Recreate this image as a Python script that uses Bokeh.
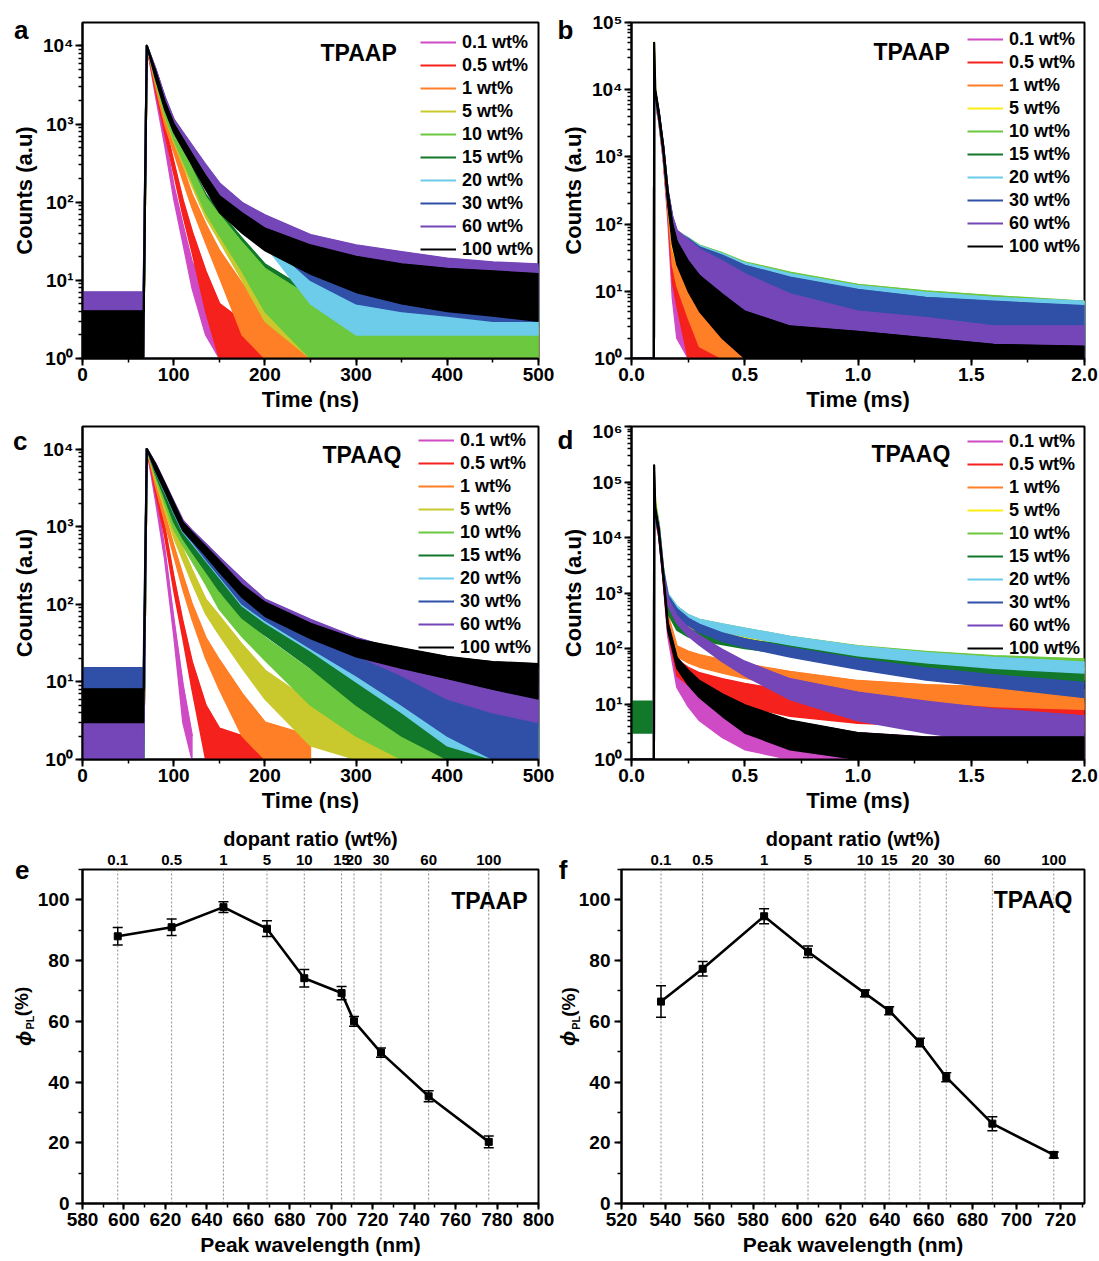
import math
from bokeh.plotting import figure
from bokeh.models import (Range1d, LogTicker, SingleIntervalTicker, FixedTicker, LinearAxis, LogAxis,
                          CustomJSTickFormatter, NumeralTickFormatter, Legend, LegendItem, Label,
                          Span, Whisker, ColumnDataSource, TeeHead)
from bokeh.layouts import column, row
from bokeh.embed import file_html
from bokeh.resources import INLINE

FONT = "Liberation Sans"
N = None

# ---------------- data ----------------
LABELS = ["0.1 wt%", "0.5 wt%", "1 wt%", "5 wt%", "10 wt%", "15 wt%", "20 wt%", "30 wt%", "60 wt%", "100 wt%"]
COLORS_NS = ["#cf4bc6", "#f5211c", "#ff7f27", "#c9c92e", "#6cc83e", "#12782a", "#6cccea", "#3050a8", "#7446b8", "#000000"]
COLORS_MS = ["#cf4bc6", "#f5211c", "#ff7f27", "#ffee14", "#6cc83e", "#12782a", "#6cccea", "#3050a8", "#7446b8", "#000000"]

# panel a : TPAAP, ns decays (upper / lower envelope of each noisy trace)
A_TIME = [0, 67, 70.5, 80, 90, 100, 110, 120, 135, 150, 175, 200, 250, 300, 350, 400, 450, 500]
A_HI = [
    [3, 3, 1e4, 3000, 700, 160, 50, 17, 8, 4, 2.5, N, N, N, N, N, N, N],
    [3, 3, 1e4, 3400, 1000, 320, 105, 42, 13, 5, 3, 2.5, N, N, N, N, N, N],
    [3, 3, 1e4, 3900, 1270, 590, 270, 125, 52, 24, 9, 5, 3, 2.5, N, N, N, N],
    [3, 3, 1e4, 4400, 1600, 780, 420, 230, 100, 58, 25, 12, 5, 3, 2.5, 2.5, 2.5, 2.5],
    [3, 3, 1e4, 4500, 1700, 850, 470, 260, 115, 68, 30, 14, 6, 3, 3, 3, 3, 3],
    [3, 3, 1e4, 4550, 1750, 900, 500, 280, 125, 75, 34, 16, 7, 3.5, 3, 3, 3, 3],
    [5, 5, 1e4, 4900, 2150, 1090, 740, 500, 280, 163, 90, 62, 35, 25, 20, 17, 15, 14],
    [6, 6, 1e4, 5000, 2200, 1120, 760, 515, 290, 170, 95, 66, 37, 27, 22, 18, 16, 15],
    [7, 7, 1e4, 5100, 2250, 1150, 780, 530, 300, 175, 98, 68, 38, 28, 23, 19, 17, 16],
    [4, 4, 1e4, 4700, 1950, 1000, 640, 410, 215, 120, 72, 46, 28, 20, 16, 14, 13, 12],
]
A_LO = [
    [1, 1, 1e4, 2300, 540, 110, 30, 8, 2, 1, 1, N, N, N, N, N, N, N],
    [1, 1, 1e4, 2650, 780, 230, 68, 23, 4, 1, 1, 1, N, N, N, N, N, N],
    [1, 1, 1e4, 3050, 990, 440, 190, 85, 30, 11, 2, 1, 1, 1, N, N, N, N],
    [1, 1, 1e4, 3500, 1250, 590, 300, 160, 64, 32, 10, 3, 1, 1, 1, 1, 1, 1],
    [1, 1, 1e4, 3600, 1320, 640, 340, 185, 74, 38, 13, 4, 1, 1, 1, 1, 1, 1],
    [1, 1, 1e4, 3650, 1360, 680, 360, 200, 82, 42, 15, 5, 1, 1, 1, 1, 1, 1],
    [1, 1, 1e4, 4000, 1720, 830, 550, 370, 190, 105, 50, 28, 5, 2, 2, 2, 2, 2],
    [1, 1, 1e4, 4050, 1750, 850, 570, 385, 200, 110, 55, 33, 10, 5, 4, 3.5, 3, 3],
    [1, 1, 1e4, 4100, 1780, 870, 590, 400, 210, 115, 60, 38, 20, 13, 9, 7, 6, 5],
    [1, 1, 1e4, 3800, 1550, 780, 480, 300, 145, 74, 40, 24, 12, 7, 5, 4, 3.5, 3],
]

# panel b : TPAAP, ms decays
B_TIME = [0, 0.099, 0.1, 0.105, 0.12, 0.14, 0.16, 0.18, 0.2, 0.25, 0.3, 0.4, 0.5, 0.7, 1.0, 1.3, 1.6, 2.0]
B_HI = [
    [1, 1, 8000, 7000, 4000, 1100, 200, 25, 9, 2.5, N, N, N, N, N, N, N, N],
    [1, 1, 1e4, 8000, 4200, 1200, 230, 35, 17, 6, 3, 2.5, N, N, N, N, N, N],
    [1, 1, 1e4, 8200, 4300, 1250, 250, 55, 28, 13, 6, 3, 2.5, N, N, N, N, N],
    [1, 1, 5e4, 9000, 4500, 1300, 280, 85, 50, 26, 20, 15, 13, 12, 10.5, 9, 8, 7],
    [1, 1, 1e4, 9000, 4600, 1400, 300, 125, 78, 62, 48, 37, 27, 19, 12.5, 10, 8.5, 7],
    [1, 1, 1e4, 9000, 4600, 1400, 300, 120, 75, 60, 46, 35, 25, 17, 11, 9, 7.5, 6.5],
    [1, 1, 1e4, 9000, 4600, 1400, 300, 125, 78, 61, 47, 36, 26, 18, 12, 9.5, 8, 7],
    [1, 1, 1e4, 9000, 4600, 1400, 300, 120, 75, 60, 45, 34, 24, 16, 10.5, 8, 7, 6],
    [1, 1, 1e4, 9000, 4600, 1450, 320, 130, 80, 58, 42, 28, 18, 9, 5, 4, 3, 3],
    [1, 1, 5e4, 1e4, 4800, 1450, 300, 100, 55, 28, 17, 9, 5, 3, 2.5, 2, 1.6, 1.5],
]
B_LO = [
    [1, 1, 8000, 6000, 3400, 900, 120, 8, 2, 1, N, N, N, N, N, N, N, N],
    [1, 1, 1e4, 6800, 3500, 950, 150, 14, 6, 1, 1, 1, N, N, N, N, N, N],
    [1, 1, 1e4, 7000, 3600, 1000, 170, 25, 12, 4, 1.5, 1, 1, N, N, N, N, N],
    [1, 1, 5e4, 7500, 3700, 1050, 190, 45, 25, 11, 6, 3, 2, 2, 2, 2, 2, 2],
    [1, 1, 1e4, 7500, 3800, 1100, 210, 75, 45, 28, 20, 12, 7, 4, 2.5, 2, 2, 2],
    [1, 1, 1e4, 7500, 3800, 1100, 210, 72, 43, 26, 18, 11, 6, 3, 2, 2, 1.5, 1.5],
    [1, 1, 1e4, 7500, 3800, 1100, 210, 72, 43, 26, 17, 10, 6, 3, 2, 1, 1, 1],
    [1, 1, 1e4, 7500, 3800, 1100, 210, 70, 40, 24, 15, 8, 3, 1, 1, 1, 1, 1],
    [1, 1, 1e4, 7500, 3800, 1150, 220, 72, 40, 20, 12, 4, 1.5, 1, 1, 1, 1, 1],
    [1, 1, 5e4, 8000, 3900, 1150, 200, 50, 25, 10, 5, 2, 1, 1, 1, 1, 1, 1],
]

# panel c : TPAAQ, ns decays
C_TIME = [0, 67, 70.5, 80, 90, 100, 110, 120, 135, 150, 175, 200, 250, 300, 350, 400, 450, 500]
C_HI = [
    [2, 2, 1e4, 2800, 500, 62, 9, 2, N, N, N, N, N, N, N, N, N, N],
    [2, 2, 1e4, 3500, 980, 220, 58, 18, 5, 2.5, 2, 2, N, N, N, N, N, N],
    [2, 2, 1e4, 4100, 1450, 560, 230, 100, 37, 19, 7, 3, 2, N, N, N, N, N],
    [2, 2, 1e4, 4900, 2050, 950, 510, 275, 115, 70, 30, 14, 5.5, 3, 2.5, 2.5, 2.5, 2.5],
    [2, 2, 1e4, 5300, 2500, 1180, 750, 490, 255, 135, 68, 37, 14, 7, 3.5, 2.5, 2.5, 2.5],
    [2, 2, 1e4, 5700, 2850, 1450, 900, 630, 370, 215, 108, 72, 30, 14, 7, 4, 3, 3],
    [3, 3, 1e4, 6100, 3400, 1850, 1060, 780, 480, 295, 135, 88, 44, 25, 14, 9, 7, 6],
    [15, 15, 1e4, 6300, 3500, 1950, 1120, 820, 500, 310, 145, 95, 48, 28, 17, 12, 10, 9],
    [3, 3, 1e4, 6500, 3700, 2100, 1200, 890, 600, 400, 210, 115, 63, 37, 25, 18, 16, 15],
    [8, 8, 1e4, 6300, 3600, 2000, 1120, 840, 550, 360, 175, 105, 56, 35, 27, 21, 18, 17],
]
C_LO = [
    [1, 1, 1e4, 2150, 380, 40, 3, 1, N, N, N, N, N, N, N, N, N, N],
    [1, 1, 1e4, 2750, 750, 150, 36, 8, 1, 1, 1, 1, N, N, N, N, N, N],
    [1, 1, 1e4, 3300, 1150, 420, 155, 64, 20, 8, 2, 1, 1, N, N, N, N, N],
    [1, 1, 1e4, 3950, 1640, 720, 370, 190, 75, 40, 15, 6, 1.5, 1, 1, 1, 1, 1],
    [1, 1, 1e4, 4350, 2000, 920, 570, 360, 180, 86, 38, 19, 5, 2, 1, 1, 1, 1],
    [1, 1, 1e4, 4750, 2350, 1150, 700, 470, 265, 148, 66, 40, 15, 5, 2, 1, 1, 1],
    [1, 1, 1e4, 5100, 2800, 1500, 850, 610, 365, 220, 95, 58, 25, 10, 4, 1.5, 1, 1],
    [1, 1, 1e4, 5200, 2900, 1550, 880, 640, 380, 230, 100, 62, 27, 12, 5, 2, 1, 1],
    [1, 1, 1e4, 5300, 2950, 1650, 920, 680, 450, 295, 150, 78, 40, 22, 12, 6, 4, 3],
    [3, 3, 1e4, 5200, 2900, 1580, 890, 660, 420, 260, 122, 70, 36, 21, 15, 11, 8, 6],
]

# panel d : TPAAQ, ms decays
D_TIME = [0, 0.099, 0.1, 0.105, 0.12, 0.14, 0.16, 0.2, 0.25, 0.3, 0.4, 0.5, 0.7, 1.0, 1.3, 1.6, 2.0]
D_HI = [
    [1, 1, 3e4, 2.8e4, 13500, 2050, 240, 42, 22, 14, 8, 5.5, 3.5, 3, 2.5, 2.5, 2.5],
    [1, 1, 3e4, 2.8e4, 13500, 2150, 290, 62, 45, 36, 28, 23, 17, 13, 12, 11, 10],
    [1, 1, 4e4, 3.4e4, 15500, 2400, 400, 110, 88, 76, 62, 52, 38, 26, 22, 20, 18],
    [1, 1, 8e4, 4.5e4, 18000, 2600, 680, 345, 255, 220, 188, 165, 125, 90, 68, 56, 45],
    [1, 1, 5e4, 4e4, 18000, 2700, 960, 570, 400, 330, 272, 228, 163, 110, 87, 73, 64],
    [11, 11, 4e4, 3.4e4, 17000, 2600, 570, 290, 220, 192, 163, 142, 113, 75, 56, 45, 38],
    [1, 1, 4e4, 3.4e4, 17000, 2600, 960, 570, 400, 330, 272, 228, 163, 108, 83, 68, 56],
    [1, 1, 3e4, 2.8e4, 15500, 2500, 900, 515, 345, 268, 188, 148, 102, 64, 44, 33, 24],
    [1, 1, 3e4, 2.8e4, 14500, 2300, 790, 380, 235, 168, 95, 58, 28, 16, 11, 8, 6],
    [1, 1, 2e5, 3.4e4, 14500, 2300, 290, 68, 40, 26, 15, 9.5, 5, 3, 2.5, 2.5, 2.5],
]
D_LO = [
    [1, 1, 3e4, 2.2e4, 10500, 1550, 165, 20, 9, 5, 2.5, 1.5, 1, 1, 1, 1, 1],
    [1, 1, 3e4, 2.2e4, 10500, 1650, 210, 32, 22, 17, 12, 9, 6, 4.5, 4, 3.5, 3],
    [1, 1, 4e4, 2.7e4, 12500, 1850, 300, 72, 55, 46, 36, 29, 20, 13, 11, 9, 8],
    [1, 1, 8e4, 3.5e4, 14000, 2000, 520, 260, 190, 162, 135, 118, 88, 62, 44, 36, 27],
    [1, 1, 5e4, 3.1e4, 14000, 2100, 740, 435, 300, 245, 200, 165, 116, 76, 59, 48, 42],
    [3, 3, 4e4, 2.6e4, 13000, 2000, 435, 215, 162, 140, 118, 100, 78, 50, 35, 28, 23],
    [1, 1, 4e4, 2.6e4, 13000, 2000, 740, 435, 300, 245, 200, 165, 116, 74, 55, 44, 36],
    [1, 1, 3e4, 2.2e4, 12500, 1900, 700, 390, 258, 196, 135, 105, 70, 42, 27, 20, 13],
    [1, 1, 3e4, 2.2e4, 11500, 1750, 610, 285, 168, 115, 58, 32, 12, 5, 3, 2, 1.2],
    [1, 1, 2e5, 2.6e4, 11500, 1750, 210, 44, 22, 13, 6, 3, 1.5, 1, 1, 1, 1],
]

# panels e / f : PLQY vs peak wavelength
DOPANT = ["0.1", "0.5", "1", "5", "10", "15", "20", "30", "60", "100"]
E_WL = [597, 623, 648, 669, 687, 705, 711, 724, 747, 776]
E_PLQY = [88.0, 91.0, 97.6, 90.5, 74.2, 69.3, 60.0, 49.7, 35.3, 20.3]
E_ERR = [2.9, 2.7, 1.8, 2.6, 2.9, 2.2, 1.6, 1.5, 1.8, 1.9]
F_WL = [538, 557, 585, 605, 631, 642, 656, 668, 689, 717]
F_PLQY = [66.5, 77.3, 94.6, 82.9, 69.2, 63.5, 53.0, 41.6, 26.3, 16.0]
F_ERR = [5.2, 2.4, 2.5, 1.9, 1.1, 1.3, 1.4, 1.5, 2.3, 1.0]

# ---------------- layout (page pixel geometry) ----------------
COL_X = [0, 554]
COL_W = [554, 544]
ROW_Y = [0, 420, 822]
ROW_H = [420, 402, 438]
FRAMES = {"a": (82, 22, 538, 358), "b": (628, 22, 1084, 358),
          "c": (82, 425, 538, 759), "d": (628, 426, 1084, 760),
          "e": (82, 869, 538, 1203), "f": (620, 866, 1084, 1205)}
CELL = {"a": (0, 0), "b": (1, 0), "c": (0, 1), "d": (1, 1), "e": (0, 2), "f": (1, 2)}
STD_ORDER = list(range(10))
A_ORDER = [0, 1, 2, 5, 3, 4, 6, 7, 8, 9]   # draw order of the traces in panel a

SUP_JS = """
const sup = {"0":"\u2070","1":"\u00b9","2":"\u00b2","3":"\u00b3","4":"\u2074","5":"\u2075","6":"\u2076","7":"\u2077","8":"\u2078","9":"\u2079","-":"\u207b"};
const e = Math.round(Math.log10(tick));
return "10" + String(e).split("").map(c => sup[c]).join("");
"""


def base_fig(key, x_range, y_range, y_log=False):
    ci, ri = CELL[key]
    fl, ft, fr, fb = FRAMES[key]
    cx, cw = COL_X[ci], COL_W[ci]
    ry, rh = ROW_Y[ri], ROW_H[ri]
    p = figure(width=cw, height=rh, output_backend="svg", toolbar_location=None,
               x_range=x_range, y_range=y_range, y_axis_type="log" if y_log else "linear",
               min_border_left=fl - cx, min_border_right=cx + cw - fr,
               min_border_top=ft - ry, min_border_bottom=ry + rh - fb)
    p.grid.visible = False
    p.outline_line_color = "black"
    p.outline_line_width = 2
    p.outline_line_alpha = 1
    p.background_fill_color = "white"
    p.border_fill_color = "white"
    return p


def style_axis(ax, label, tick_size="19px", label_size="22px"):
    ax.axis_label = label
    ax.axis_label_text_font = FONT
    ax.axis_label_text_font_style = "bold"
    ax.axis_label_text_font_size = label_size
    ax.axis_label_text_color = "black"
    ax.major_label_text_font = FONT
    ax.major_label_text_font_style = "bold"
    ax.major_label_text_font_size = tick_size
    ax.major_label_text_color = "black"
    ax.axis_line_color = "black"
    ax.axis_line_width = 2
    ax.major_tick_line_color = "black"
    ax.major_tick_line_width = 2
    ax.major_tick_out = 7
    ax.major_tick_in = 0
    ax.minor_tick_line_color = "black"
    ax.minor_tick_line_width = 1.5
    ax.minor_tick_out = 4
    ax.minor_tick_in = 0
    ax.major_label_standoff = 2
    ax.axis_label_standoff = 3


def text_axis(p, values, texts, size, standoff, orient="horizontal", style="bold", log=False):
    """An extra, invisible left axis used only to print texts beside the frame."""
    cls = LogAxis if log else LinearAxis
    ax = cls(ticker=FixedTicker(ticks=list(values)),
             formatter=CustomJSTickFormatter(
                 args=dict(vals=list(values), labs=list(texts)),
                 code="let b = 0; for (let i = 0; i < vals.length; i++) { if (Math.abs(vals[i] - tick) < Math.abs(vals[b] - tick)) b = i; } return labs[b];"))
    ax.axis_label = None
    ax.axis_line_color = None
    ax.major_tick_line_color = None
    ax.minor_tick_line_color = None
    ax.major_tick_out = 0
    ax.major_tick_in = 0
    ax.minor_tick_out = 0
    ax.minor_tick_in = 0
    ax.major_label_standoff = standoff
    ax.major_label_orientation = orient
    ax.major_label_text_font = FONT
    ax.major_label_text_font_style = style
    ax.major_label_text_font_size = size
    ax.major_label_text_color = "black"
    p.add_layout(ax, "left")
    return ax


def y_at(key, Y, log_top=None, lin_top=None):
    fl, ft, fr, fb = FRAMES[key]
    frac = (fb - Y) / float(fb - ft)
    if log_top is not None:
        return 10 ** (log_top * frac)
    return lin_top * frac


def page_label(p, key, X, Y, text, size, align="left", style="bold"):
    fl, ft, fr, fb = FRAMES[key]
    p.add_layout(Label(x=X - fl, y=fb - Y, x_units="screen", y_units="screen", text=text,
                       text_font=FONT, text_font_size=size, text_font_style=style,
                       text_align=align, text_baseline="alphabetic", text_color="black"))


def decay_panel(key, x_end, log_top, x_step, x_label, times, his, los, colors,
                title, title_xy, letter, letter_y, letter_standoff, legend_xy,
                ms=False, order=STD_ORDER):
    p = base_fig(key, Range1d(0, x_end), Range1d(1, 10 ** log_top), y_log=True)
    renderers = {}
    for k in order:
        hi, lo, col = his[k], los[k], colors[k]
        idx = [i for i, v in enumerate(hi) if v is not None]
        t = [times[i] for i in idx]
        h = [hi[i] for i in idx]
        l = [lo[i] for i in idx]
        p.patch(t + t[::-1], h + l[::-1], fill_color=col, line_color=col,
                line_width=1.4, line_join="round")
        renderers[k] = p.line(t, h, line_color=col, line_width=2.2, line_join="round")
    items = [LegendItem(label=LABELS[k], renderers=[renderers[k]]) for k in range(10)]
    style_axis(p.xaxis[0], x_label)
    style_axis(p.yaxis[0], "Counts (a.u)")
    p.xaxis[0].ticker = SingleIntervalTicker(interval=x_step, num_minor_ticks=2)
    if ms:
        p.xaxis[0].formatter = NumeralTickFormatter(format="0.0")
    p.yaxis[0].ticker = LogTicker(mantissas=[1], num_minor_ticks=10, desired_num_ticks=8)
    p.yaxis[0].formatter = CustomJSTickFormatter(code=SUP_JS)

    fl, ft, fr, fb = FRAMES[key]
    lx, ly = legend_xy
    top = ly - 11
    height = 10 * 22 + 9 * 1
    leg = Legend(items=items, location=(lx - fl, fb - (top + height)),
                 label_text_font=FONT, label_text_font_style="bold",
                 label_text_font_size="18px", label_text_color="black",
                 glyph_width=36, glyph_height=22, label_height=22, spacing=1,
                 label_standoff=6, padding=0, margin=0,
                 border_line_alpha=0, background_fill_alpha=0)
    p.add_layout(leg)
    page_label(p, key, title_xy[0], title_xy[1], title, "23px")
    text_axis(p, [y_at(key, letter_y, log_top=log_top)], [letter], "26px", letter_standoff, log=True)
    return p


def plqy_panel(key, x0, x1, wl, vals, errs, title, title_xy, letter, main_standoff, stand):
    p = base_fig(key, Range1d(x0, x1), Range1d(0, 110))
    for w in wl:
        p.add_layout(Span(location=w, dimension="height", line_color="#8c8c8c",
                          line_dash="2 2", line_width=1, level="underlay"))
    src = ColumnDataSource(dict(x=wl, y=vals,
                                upper=[v + e for v, e in zip(vals, errs)],
                                lower=[v - e for v, e in zip(vals, errs)]))
    p.add_layout(Whisker(source=src, base="x", upper="upper", lower="lower",
                         line_color="black", line_width=1.5,
                         upper_head=TeeHead(size=10, line_width=1.5, line_color="black"),
                         lower_head=TeeHead(size=10, line_width=1.5, line_color="black")))
    p.line("x", "y", source=src, line_color="black", line_width=2.6)
    p.scatter("x", "y", source=src, marker="square", size=7, color="black")

    style_axis(p.xaxis[0], "Peak wavelength (nm)", tick_size="19px", label_size="21px")
    style_axis(p.yaxis[0], None, tick_size="19px")
    p.xaxis[0].major_tick_out = 6
    p.xaxis[0].major_label_standoff = 3
    p.xaxis[0].axis_label_standoff = 4
    p.xaxis[0].ticker = SingleIntervalTicker(interval=20, num_minor_ticks=2)
    p.yaxis[0].ticker = SingleIntervalTicker(interval=20, num_minor_ticks=2)
    p.yaxis[0].major_label_standoff = main_standoff

    top = LinearAxis(ticker=FixedTicker(ticks=wl),
                     formatter=CustomJSTickFormatter(
                         args=dict(wls=wl, labs=DOPANT),
                         code="const i = wls.findIndex(t => Math.abs(t - tick) < 1e-6); return i >= 0 ? labs[i] : '';"))
    style_axis(top, "dopant ratio (wt%)", tick_size="15px", label_size="20px")
    top.major_tick_out = 0
    top.major_tick_in = 0
    top.minor_tick_out = 0
    top.axis_line_alpha = 0
    top.major_tick_line_alpha = 0
    top.major_label_standoff = 5
    top.axis_label_standoff = 2
    p.add_layout(top, "above")

    page_label(p, key, title_xy[0], title_xy[1], title, "23px", align="right")

    # y axis title  "phi_PL (%)"  and the panel letter, printed by extra invisible left axes
    fl, ft, fr, fb = FRAMES[key]
    mid = (ft + fb) / 2.0
    s_pct, s_phi, s_pl, s_let = stand
    text_axis(p, [y_at(key, mid - 35, lin_top=110)], ["(%)"], "19px", s_pct, orient="vertical")
    text_axis(p, [y_at(key, mid + 2, lin_top=110)], ["\u03d5"], "20px", s_phi, orient="vertical",
              style="bold italic")
    text_axis(p, [y_at(key, mid - 14, lin_top=110)], ["PL"], "11px", s_pl, orient="vertical")
    text_axis(p, [109.9], [letter], "26px", s_let)
    return p


pa = decay_panel("a", 500, 4.3, 100, "Time (ns)", A_TIME, A_HI, A_LO, COLORS_NS,
                 "TPAAP", (320, 52), "a", 29, -20, (420, 42), order=A_ORDER)
pb = decay_panel("b", 2.0, 5.0, 0.5, "Time (ms)", B_TIME, B_HI, B_LO, COLORS_MS,
                 "TPAAP", (870, 51), "b", 29, -16, (964, 39), ms=True)
pc = decay_panel("c", 500, 4.29, 100, "Time (ns)", C_TIME, C_HI, C_LO, COLORS_NS,
                 "TPAAQ", (322, 454), "c", 429, -19, (418, 440))
pd_ = decay_panel("d", 2.0, 6.0, 0.5, "Time (ms)", D_TIME, D_HI, D_LO, COLORS_MS,
                  "TPAAQ", (868, 454), "d", 431, -16, (964, 442), ms=True)
pe = plqy_panel("e", 580, 800, E_WL, E_PLQY, E_ERR, "TPAAP", (527, 900), "e", 6, (3, -27, -28, -22))
pf = plqy_panel("f", 520, 731, F_WL, F_PLQY, F_ERR, "TPAAQ", (1071, 901), "f", 4, (-4, -24, -28, -13))

layout = column(row(pa, pb), row(pc, pd_), row(pe, pf))
open("out.html", "w").write(file_html(layout, INLINE))
